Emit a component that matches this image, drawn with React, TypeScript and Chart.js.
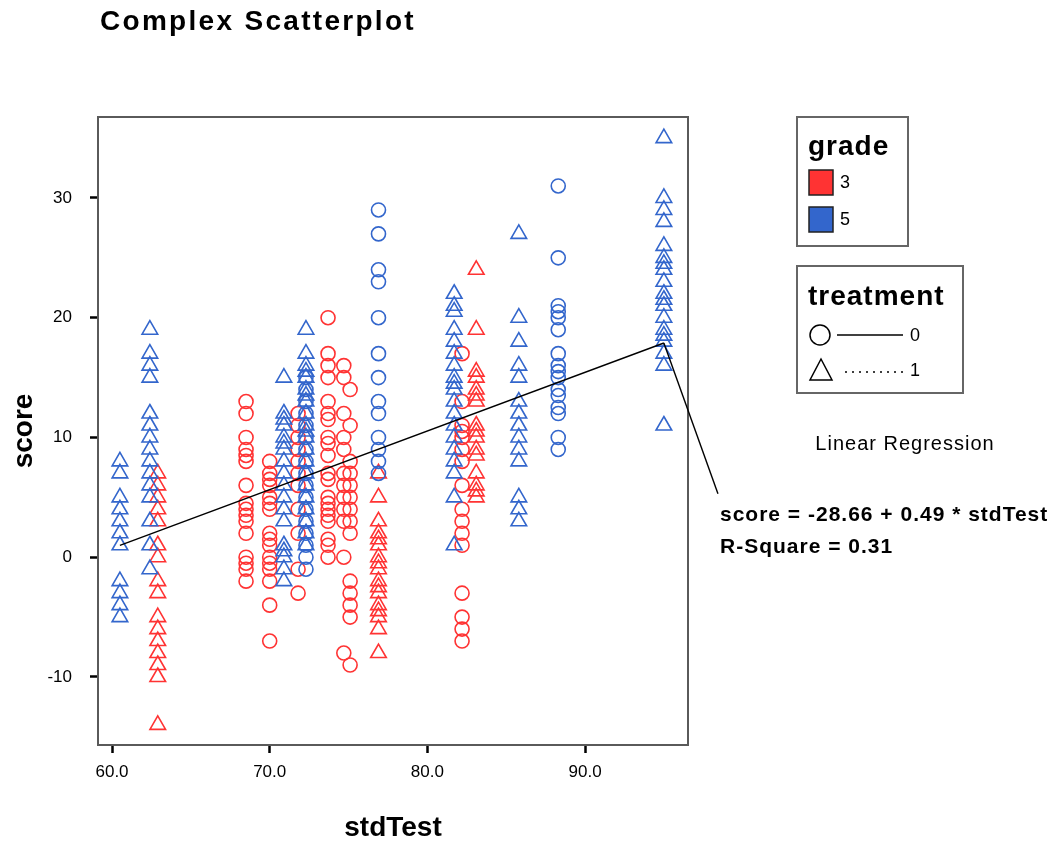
import { useEffect, useRef } from "react";
import { Chart, registerables } from "chart.js";

Chart.register(...registerables);

// ---------- data ----------
const xTicks = [60, 70, 80, 90];
const yTicks = [-10, 0, 10, 20, 30];
const intercept = -28.66;
const slope = 0.49;
const rSquare = 0.31;
const fitRange = [60.5, 95.0];

// grade 3, treatment 0 (red circles): stdTest columns and their scores
const g3t0X = [68.5, 70.0, 71.8, 73.7, 74.7, 75.1, 82.2];
const g3t0Y = [
  [13, 12, 10, 9, 8.5, 8, 6, 4.5, 4, 3.5, 3, 2, 0, -0.5, -1, -2],
  [8, 7, 6.5, 6, 5, 4.5, 4, 2, 1.5, 1, 0, -0.5, -1, -2, -4, -7],
  [12, 11, 10, 9, 8, 7, 6, 4, 2, -1, -3],
  [20, 17, 16, 15, 13, 12, 11.5, 10, 9.5, 8.5, 7, 6.5, 5, 4.5, 4, 3.5, 3, 1.5, 1, 0],
  [16, 15, 12, 10, 9, 7, 6, 5, 4, 3, 0, -8],
  [14, 11, 8, 7, 6, 5, 4, 3, 2, -2, -3, -4, -5, -9],
  [17, 13, 11, 10.5, 10, 9, 8, 6, 4, 3, 2, 1, -3, -5, -6, -7],
];

// grade 3, treatment 1 (red triangles)
const g3t1X = [62.9, 76.9, 83.1];
const g3t1Y = [
  [7, 6, 5, 4, 3, 1, 0, -2, -3, -5, -6, -7, -8, -9, -10, -14],
  [7, 5, 3, 2, 1.5, 1, 0, -0.5, -1, -2, -2.5, -3, -4, -4.5, -5, -6, -8],
  [24, 19, 15.5, 15, 14, 13.5, 13, 11, 10.5, 10, 9, 8.5, 7, 6, 5.5, 5],
];

// grade 5, treatment 0 (blue circles)
const g5t0X = [72.3, 76.9, 88.3];
const g5t0Y = [
  [15, 14, 13, 12, 11, 10, 9, 8, 7, 6, 5, 4, 3, 2, 1, 0, -1],
  [29, 27, 24, 23, 20, 17, 15, 13, 12, 10, 9, 8, 7],
  [31, 25, 21, 20.5, 20, 19, 17, 16, 15.5, 15, 14, 13.5, 12.5, 12, 10, 9],
];

// grade 5, treatment 1 (blue triangles)
const g5t1X = [60.5, 62.4, 70.9, 72.3, 81.7, 85.8, 95.0];
const g5t1Y = [
  [8, 7, 5, 4, 3, 2, 1, -2, -3, -4, -5],
  [19, 17, 16, 15, 12, 11, 10, 9, 8, 7, 6, 5, 3, 1, -1],
  [15, 12, 11.5, 11, 10, 9.5, 9, 8, 7, 6, 5, 4, 3, 1, 0.5, 0, -1, -2],
  [19, 17, 16, 15.5, 15, 14, 13.5, 13, 12, 11, 10.5, 10, 9, 8, 7, 6, 5, 4, 3, 2, 1],
  [22, 21, 20.5, 19, 18, 17, 16, 15, 14.5, 14, 13, 12, 11, 10, 9, 8, 7, 5, 1],
  [27, 20, 18, 16, 15, 13, 12, 11, 10, 9, 8, 5, 4, 3],
  [35, 30, 29, 28, 26, 25, 24.5, 24, 23, 22, 21.5, 21, 20, 19, 18.5, 18, 17, 16, 11],
];

const gradeLabels = ["3", "5"];
const treatmentLabels = ["0", "1"];

// ---------- styles ----------
const RED = "#ff3333";
const BLUE = "#3366cc";
const FONT = "'Liberation Sans', Arial, sans-serif";

function toPoints(xs: number[], ys: number[][]) {
  const out: { x: number; y: number }[] = [];
  xs.forEach((x, i) => ys[i].forEach((y) => out.push({ x, y })));
  return out;
}

const decorPlugin = {
  id: "decor",
  beforeDatasetsDraw(chart: any) {
    const { ctx, chartArea } = chart;
    ctx.save();
    ctx.strokeStyle = "#5a5a5a";
    ctx.lineWidth = 2;
    ctx.strokeRect(chartArea.left, chartArea.top, chartArea.right - chartArea.left, chartArea.bottom - chartArea.top);
    ctx.restore();
  },
  afterDraw(chart: any) {
    const { ctx } = chart;
    const xs = chart.scales.x;
    const ys = chart.scales.y;
    ctx.save();

    // connector from end of fit line to the equation label
    const ex = fitRange[1];
    ctx.strokeStyle = "#000";
    ctx.lineWidth = 1.4;
    ctx.beginPath();
    ctx.moveTo(xs.getPixelForValue(ex), ys.getPixelForValue(intercept + slope * ex));
    ctx.lineTo(xs.getPixelForValue(98.43), ys.getPixelForValue(5.3));
    ctx.stroke();

    ctx.fillStyle = "#000";
    ctx.textBaseline = "middle";

    // title
    (ctx as any).letterSpacing = "2.3px";
    ctx.font = `bold 28px ${FONT}`;
    ctx.textAlign = "left";
    ctx.fillText("Complex Scatterplot", 100, 22);
    (ctx as any).letterSpacing = "1px";

    // grade legend
    ctx.strokeStyle = "#666";
    ctx.lineWidth = 2;
    ctx.strokeRect(797, 117, 111, 129);
    ctx.font = `bold 28px ${FONT}`;
    ctx.fillText("grade", 808, 147);
    const sq = [
      { c: RED, y: 170 },
      { c: BLUE, y: 207 },
    ];
    sq.forEach((s, i) => {
      ctx.fillStyle = s.c;
      ctx.fillRect(809, s.y, 24, 25);
      ctx.strokeStyle = "#222";
      ctx.lineWidth = 1.5;
      ctx.strokeRect(809, s.y, 24, 25);
      ctx.fillStyle = "#000";
      ctx.font = `18px ${FONT}`;
      ctx.fillText(gradeLabels[i], 840, s.y + 13);
    });

    // treatment legend
    ctx.strokeStyle = "#666";
    ctx.lineWidth = 2;
    ctx.strokeRect(797, 266, 166, 127);
    ctx.font = `bold 28px ${FONT}`;
    ctx.fillText("treatment", 808, 297);
    ctx.strokeStyle = "#000";
    ctx.lineWidth = 1.5;
    ctx.beginPath();
    ctx.arc(820, 335, 10, 0, Math.PI * 2);
    ctx.stroke();
    ctx.beginPath();
    ctx.moveTo(837, 335);
    ctx.lineTo(903, 335);
    ctx.stroke();
    ctx.beginPath();
    ctx.moveTo(821, 359);
    ctx.lineTo(832, 380);
    ctx.lineTo(810, 380);
    ctx.closePath();
    ctx.stroke();
    ctx.setLineDash([2, 5]);
    ctx.beginPath();
    ctx.moveTo(845, 372);
    ctx.lineTo(903, 372);
    ctx.stroke();
    ctx.setLineDash([]);
    ctx.font = `18px ${FONT}`;
    ctx.fillText(treatmentLabels[0], 910, 336);
    ctx.fillText(treatmentLabels[1], 910, 371);

    // regression annotation
    ctx.font = `20px ${FONT}`;
    ctx.textAlign = "center";
    ctx.fillText("Linear Regression", 905, 444);
    ctx.textAlign = "left";
    ctx.font = `bold 21px ${FONT}`;
    ctx.fillText(`score = ${intercept.toFixed(2)} + ${slope.toFixed(2)} * stdTest`, 720, 515);
    ctx.fillText(`R-Square = ${rSquare.toFixed(2)}`, 720, 547);

    ctx.restore();
  },
};

export default function App() {
  const ref = useRef<HTMLCanvasElement | null>(null);

  useEffect(() => {
    if (!ref.current) return;
    const pointBase = { backgroundColor: "rgba(0,0,0,0)", pointBorderWidth: 1.6, showLine: false };
    const chart = new Chart(ref.current, {
      type: "scatter",
      data: {
        datasets: [
          {
            type: "line",
            label: "fit",
            data: fitRange.map((x) => ({ x, y: intercept + slope * x })),
            borderColor: "#000",
            borderWidth: 1.4,
            pointRadius: 0,
            fill: false,
          } as any,
          { label: "g5t0", data: toPoints(g5t0X, g5t0Y), borderColor: BLUE, pointStyle: "circle", pointRadius: 7, ...pointBase },
          { label: "g5t1", data: toPoints(g5t1X, g5t1Y), borderColor: BLUE, pointStyle: "triangle", pointRadius: 9, ...pointBase },
          { label: "g3t0", data: toPoints(g3t0X, g3t0Y), borderColor: RED, pointStyle: "circle", pointRadius: 7, ...pointBase },
          { label: "g3t1", data: toPoints(g3t1X, g3t1Y), borderColor: RED, pointStyle: "triangle", pointRadius: 9, ...pointBase },
        ],
      },
      options: {
        animation: false,
        responsive: false,
        events: [],
        layout: { padding: { left: 0, right: 366, top: 117, bottom: 0 } },
        plugins: { legend: { display: false }, tooltip: { enabled: false }, title: { display: false } },
        scales: {
          x: {
            type: "linear",
            min: 59.11,
            max: 96.53,
            afterBuildTicks: (s: any) => {
              s.ticks = xTicks.map((v) => ({ value: v }));
            },
            afterFit: (s: any) => {
              s.height = 103;
            },
            ticks: {
              callback: (v: any) => Number(v).toFixed(1),
              font: { family: FONT, size: 17 },
              color: "#000",
              padding: 9,
              maxRotation: 0,
              autoSkip: false,
            },
            grid: { drawOnChartArea: false, tickLength: 8, tickWidth: 2.5, tickColor: "#000" },
            border: { display: false },
            title: {
              display: true,
              text: "stdTest",
              font: { family: FONT, size: 28, weight: "bold" },
              color: "#000",
              padding: { top: 0, bottom: 3 },
            },
          },
          y: {
            type: "linear",
            min: -15.68,
            max: 36.76,
            afterBuildTicks: (s: any) => {
              s.ticks = yTicks.map((v) => ({ value: v }));
            },
            afterFit: (s: any) => {
              s.width = 98;
            },
            ticks: {
              font: { family: FONT, size: 17 },
              color: "#000",
              padding: 18,
              autoSkip: false,
            },
            grid: { drawOnChartArea: false, tickLength: 8, tickWidth: 2.5, tickColor: "#000" },
            border: { display: false },
            title: {
              display: true,
              text: "score",
              font: { family: FONT, size: 28, weight: "bold" },
              color: "#000",
              padding: { top: 7, bottom: 0 },
            },
          },
        },
      },
      plugins: [decorPlugin],
    });
    return () => chart.destroy();
  }, []);

  return (
    <div style={{ position: "absolute", left: 0, top: 0, width: 1054, height: 848, background: "#fff" }}>
      <canvas ref={ref} width={1054} height={848} style={{ width: 1054, height: 848, display: "block" }} />
    </div>
  );
}
